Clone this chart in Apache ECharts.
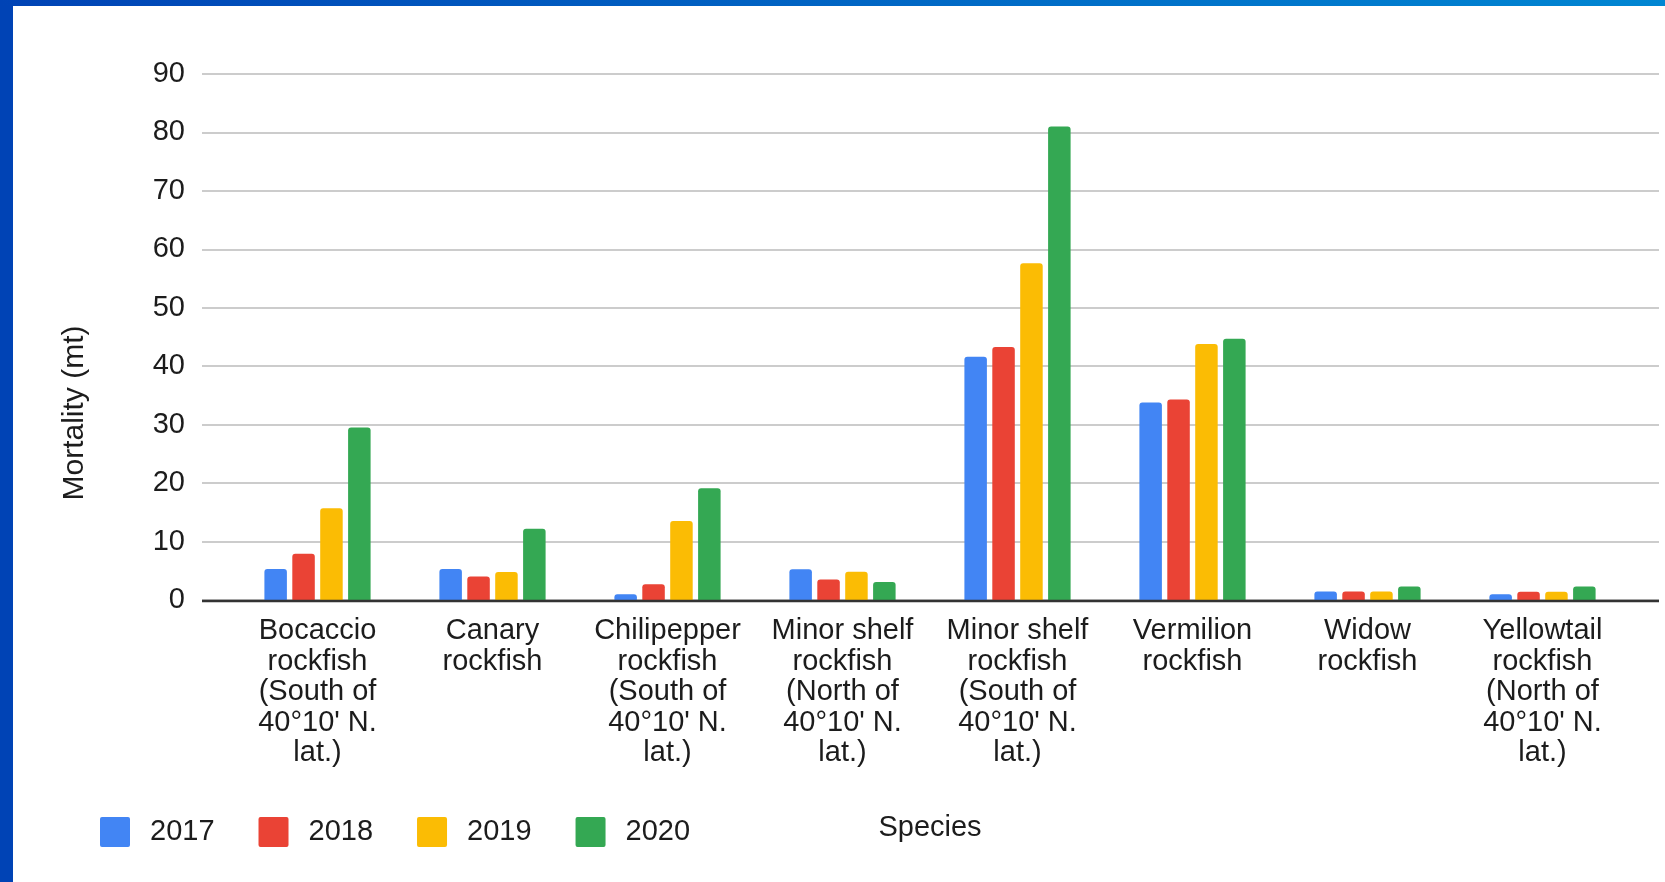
<!DOCTYPE html>
<html>
<head>
<meta charset="utf-8">
<script src="https://cdn.jsdelivr.net/npm/echarts@6/dist/echarts.min.js"></script>
<style>
html,body{margin:0;padding:0;background:#fff;}
#chart{width:1665px;height:882px;}
</style>
</head>
<body>
<div id="chart"></div>
<script>
const categories = [
  "Bocaccio\nrockfish\n(South of\n40°10' N.\nlat.)",
  "Canary\nrockfish",
  "Chilipepper\nrockfish\n(South of\n40°10' N.\nlat.)",
  "Minor shelf\nrockfish\n(North of\n40°10' N.\nlat.)",
  "Minor shelf\nrockfish\n(South of\n40°10' N.\nlat.)",
  "Vermilion\nrockfish",
  "Widow\nrockfish",
  "Yellowtail\nrockfish\n(North of\n40°10' N.\nlat.)"
];
const years = ["2017", "2018", "2019", "2020"];
const values2017 = [5.3, 5.3, 1.0, 5.25, 41.6, 33.8, 1.45, 1.0];
const values2018 = [7.9, 4.0, 2.7, 3.5, 43.3, 34.3, 1.45, 1.4];
const values2019 = [15.7, 4.8, 13.5, 4.85, 57.6, 43.8, 1.45, 1.4];
const values2020 = [29.5, 12.2, 19.1, 3.1, 81.0, 44.7, 2.3, 2.3];
const seriesValues = [values2017, values2018, values2019, values2020];
const colors = ["#4285F4", "#EA4335", "#FBBC04", "#34A853"];
const yTitle = "Mortality (mt)";
const xTitle = "Species";

const FONT = "'Liberation Sans', Arial, Helvetica, sans-serif";
const FS = 29;
const TXT = '#1c1c1c';

const chart = echarts.init(document.getElementById('chart'), null, {renderer: 'canvas'});
const option = {
  animation: false,
  backgroundColor: '#ffffff',
  textStyle: {fontFamily: FONT},
  color: colors,
  grid: [
    {left: 230, right: 35, top: 74, bottom: 282, containLabel: false},
    {left: 202, right: 6, top: 74, bottom: 282, containLabel: false}
  ],
  legend: {
    data: years,
    left: 95,
    top: 812,
    itemWidth: 30,
    itemHeight: 30,
    itemGap: 44,
    icon: 'path://M2,0 H28 Q30,0 30,2 V28 Q30,30 28,30 H2 Q0,30 0,28 V2 Q0,0 2,0 Z',
    selectedMode: false,
    textStyle: {fontFamily: FONT, fontSize: FS, color: TXT, padding: [0, 0, 0, 15]}
  },
  xAxis: [
    {
      type: 'category', gridIndex: 0, data: categories,
      axisLine: {show: false}, axisTick: {show: false},
      axisLabel: {interval: 0, margin: 16, fontFamily: FONT, fontSize: FS, lineHeight: 30.5, color: TXT, align: 'center'},
      splitLine: {show: false}
    },
    {
      type: 'value', gridIndex: 1, min: 0, max: 1,
      axisLine: {show: false}, axisTick: {show: false}, axisLabel: {show: false}, splitLine: {show: false}
    }
  ],
  yAxis: [
    {
      type: 'value', gridIndex: 0, min: 0, max: 90, interval: 10,
      axisLine: {show: false}, axisTick: {show: false}, axisLabel: {show: false}, splitLine: {show: false}
    },
    {
      type: 'value', gridIndex: 1, min: 0, max: 90, interval: 10,
      axisLine: {show: false}, axisTick: {show: false},
      axisLabel: {margin: 17, fontFamily: FONT, fontSize: FS, color: TXT},
      splitLine: {show: true, lineStyle: {color: '#cccccc', width: 2}}
    }
  ],
  graphic: [
    {type: 'rect', shape: {x: 0, y: 0, width: 13, height: 882}, style: {fill: '#0043b5'}, z: 100},
    {type: 'rect', shape: {x: 0, y: 0, width: 1665, height: 6},
      style: {fill: new echarts.graphic.LinearGradient(0, 0, 1, 0, [{offset: 0, color: '#0043b5'}, {offset: 1, color: '#0086d2'}])}, z: 100},
    {type: 'line', shape: {x1: 202, y1: 601, x2: 1659, y2: 601}, style: {stroke: '#333333', lineWidth: 2.5}, z: 50},
    {type: 'text', x: 75, y: 413, rotation: Math.PI / 2,
      style: {text: yTitle, fontFamily: FONT, fontSize: 30, fill: TXT, align: 'center', verticalAlign: 'middle'}},
    {type: 'text', x: 930, y: 828,
      style: {text: xTitle, fontFamily: FONT, fontSize: FS, fill: TXT, align: 'center', verticalAlign: 'middle'}}
  ],
  series: years.map((y, i) => ({
    name: y,
    type: 'bar',
    xAxisIndex: 0,
    yAxisIndex: 0,
    data: seriesValues[i],
    barWidth: 22.5,
    barGap: '24%',
    itemStyle: {color: colors[i], borderRadius: [3, 3, 0, 0]},
    emphasis: {disabled: true}
  }))
};
chart.setOption(option);
</script>
</body>
</html>
